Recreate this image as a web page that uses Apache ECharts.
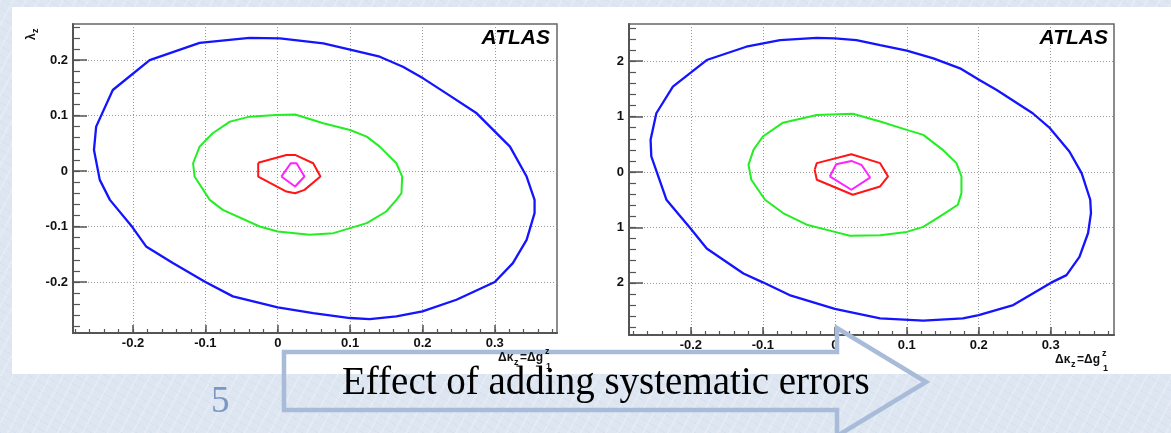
<!DOCTYPE html>
<html>
<head>
<meta charset="utf-8">
<script src="https://cdn.jsdelivr.net/npm/echarts@6/dist/echarts.min.js"></script>
<style>
  body {
    margin: 0;
    width: 1171px;
    height: 433px;
    overflow: hidden;
    background:
      repeating-linear-gradient(118deg, rgba(255,255,255,0.22) 0 2px, transparent 2px 11px),
      repeating-linear-gradient(32deg, rgba(200,212,230,0.25) 0 1px, transparent 1px 8px),
      #dde6f1;
  }
  #panel { position: absolute; left: 12px; top: 7px; width: 1159px; height: 367px; background: #fff; }
  #main { position: absolute; left: 0; top: 0; width: 1171px; height: 433px; }
</style>
</head>
<body>
<div id="panel"></div>
<div id="main"></div>
<script>
// contour points [dk, lambda]
var leftBlue = [[-0.039,0.240],[-0.108,0.231],[-0.177,0.200],[-0.228,0.146],[-0.251,0.080],[-0.254,0.038],[-0.246,-0.016],[-0.232,-0.052],[-0.201,-0.101],[-0.182,-0.136],[-0.145,-0.166],[-0.100,-0.200],[-0.062,-0.226],[0.000,-0.246],[0.049,-0.256],[0.100,-0.265],[0.127,-0.267],[0.164,-0.262],[0.200,-0.253],[0.247,-0.232],[0.300,-0.200],[0.325,-0.166],[0.344,-0.124],[0.355,-0.076],[0.355,-0.052],[0.344,-0.010],[0.321,0.044],[0.275,0.104],[0.233,0.140],[0.201,0.167],[0.173,0.188],[0.141,0.206],[0.100,0.219],[0.063,0.230],[0.003,0.239],[-0.039,0.240]];
var leftGreen = [[-0.002,0.101],[-0.039,0.098],[-0.066,0.089],[-0.090,0.068],[-0.108,0.044],[-0.117,0.014],[-0.115,-0.010],[-0.094,-0.052],[-0.076,-0.070],[-0.025,-0.100],[0.000,-0.109],[0.044,-0.115],[0.077,-0.112],[0.100,-0.103],[0.123,-0.094],[0.150,-0.073],[0.164,-0.052],[0.171,-0.040],[0.172,-0.010],[0.164,0.014],[0.141,0.044],[0.123,0.062],[0.100,0.074],[0.063,0.086],[0.024,0.102],[-0.002,0.101]];
var leftRed = [[-0.027,0.015],[0.012,0.029],[0.024,0.029],[0.049,0.014],[0.059,-0.010],[0.037,-0.034],[0.024,-0.040],[0.012,-0.037],[-0.027,-0.010],[-0.027,0.015]];
var leftMagenta = [[0.005,-0.010],[0.018,0.014],[0.026,0.014],[0.037,-0.010],[0.024,-0.028],[0.005,-0.010]];

var rightBlue = [[0.000,0.241],[-0.025,0.242],[-0.076,0.238],[-0.123,0.226],[-0.178,0.202],[-0.225,0.154],[-0.248,0.106],[-0.256,0.058],[-0.255,0.028],[-0.234,-0.050],[-0.201,-0.101],[-0.178,-0.138],[-0.127,-0.183],[-0.100,-0.199],[-0.063,-0.222],[0.000,-0.247],[0.063,-0.264],[0.123,-0.268],[0.178,-0.264],[0.200,-0.258],[0.248,-0.240],[0.300,-0.200],[0.322,-0.186],[0.340,-0.153],[0.352,-0.110],[0.356,-0.074],[0.355,-0.050],[0.343,-0.002],[0.326,0.037],[0.299,0.079],[0.275,0.106],[0.225,0.148],[0.201,0.166],[0.174,0.187],[0.137,0.205],[0.100,0.219],[0.063,0.229],[0.030,0.238],[0.000,0.241]];
var rightGreen = [[0.025,0.105],[-0.025,0.103],[-0.072,0.089],[-0.100,0.064],[-0.113,0.040],[-0.120,0.013],[-0.116,-0.014],[-0.097,-0.050],[-0.072,-0.074],[-0.039,-0.095],[0.000,-0.108],[0.021,-0.115],[0.063,-0.114],[0.100,-0.108],[0.123,-0.099],[0.150,-0.077],[0.171,-0.059],[0.176,-0.038],[0.176,-0.008],[0.169,0.016],[0.150,0.040],[0.123,0.067],[0.100,0.076],[0.063,0.091],[0.025,0.105]];
var rightRed = [[-0.028,0.004],[-0.025,0.016],[0.023,0.032],[0.063,0.016],[0.074,-0.008],[0.063,-0.026],[0.025,-0.041],[-0.025,-0.014],[-0.028,0.004]];
var rightMagenta = [[-0.007,-0.008],[0.002,0.014],[0.023,0.020],[0.037,0.013],[0.049,-0.010],[0.023,-0.032],[-0.007,-0.008]];

// tick values and labels
var xTicks = [-0.2, -0.1, 0, 0.1, 0.2, 0.3];
var yTicks = [-0.2, -0.1, 0, 0.1, 0.2];
var rightYLabels = ['2', '1', '0', '1', '2'];
var xMinor = [];
for (var i = -14; i <= 19; i++) xMinor.push(i / 50);
var yMinor = [];
for (var j = -14; j <= 13; j++) yMinor.push(j / 50);

var labelFont = { color: '#111', fontFamily: 'Liberation Sans', fontWeight: 'bold', fontSize: 13 };
var grey = '#555';

function majorX(grid, min, max) {
  return {
    type: 'value', gridIndex: grid, min: min, max: max, position: 'bottom',
    axisLine: { show: true, onZero: false, lineStyle: { color: grey, width: 2 } },
    axisTick: { show: true, inside: true, length: 8, customValues: xTicks, lineStyle: { color: grey, width: 1.5 } },
    axisLabel: Object.assign({ customValues: xTicks, margin: 4, formatter: function (v) { return v === 0 ? '0' : String(v); } }, labelFont),
    splitLine: { show: true, lineStyle: { color: '#9a9a9a', width: 1, type: [1, 2] } }
  };
}
function minorX(grid, min, max) {
  return {
    type: 'value', gridIndex: grid, min: min, max: max, position: 'bottom',
    axisLine: { show: false, onZero: false },
    axisTick: { show: true, inside: true, length: 4, customValues: xMinor, lineStyle: { color: grey, width: 1.2 } },
    axisLabel: { show: false }, splitLine: { show: false }
  };
}
function majorY(grid, min, max, fmt) {
  return {
    type: 'value', gridIndex: grid, min: min, max: max, position: 'left',
    axisLine: { show: true, onZero: false, lineStyle: { color: grey, width: 2 } },
    axisTick: { show: true, inside: true, length: 14, customValues: yTicks, lineStyle: { color: grey, width: 1.5 } },
    axisLabel: Object.assign({ customValues: yTicks, margin: 5, formatter: fmt }, labelFont),
    splitLine: { show: true, lineStyle: { color: '#9a9a9a', width: 1, type: [1, 2] } }
  };
}
function minorY(grid, min, max) {
  return {
    type: 'value', gridIndex: grid, min: min, max: max, position: 'left',
    axisLine: { show: false, onZero: false },
    axisTick: { show: true, inside: true, length: 7, customValues: yMinor, lineStyle: { color: grey, width: 1.2 } },
    axisLabel: { show: false }, splitLine: { show: false }
  };
}
function contour(data, color, width, xi, yi) {
  return {
    type: 'line', data: data, xAxisIndex: xi, yAxisIndex: yi,
    showSymbol: false, symbol: 'none', silent: true, z: 5,
    lineStyle: { color: color, width: width }
  };
}
function txt(s, x, y, size, extra) {
  return Object.assign({
    type: 'text', x: x, y: y, z: 100,
    style: { text: s, font: 'bold ' + size + 'px "Liberation Sans"', fill: '#111', verticalAlign: 'middle', textVerticalAlign: 'middle' }
  }, extra || {});
}

var myChart = echarts.init(document.getElementById('main'));
myChart.setOption({
  animation: false,
  backgroundColor: 'transparent',
  grid: [
    { left: 73, top: 24, width: 484, height: 309, show: true, borderColor: '#666', borderWidth: 1.5, backgroundColor: 'transparent' },
    { left: 629, top: 24, width: 485, height: 311, show: true, borderColor: '#666', borderWidth: 1.5, backgroundColor: 'transparent' }
  ],
  xAxis: [
    majorX(0, -0.283, 0.386), minorX(0, -0.283, 0.386),
    majorX(1, -0.286, 0.388), minorX(1, -0.286, 0.388)
  ],
  yAxis: [
    majorY(0, -0.292, 0.265, function (v) { return v === 0 ? '0' : String(v); }),
    minorY(0, -0.292, 0.265),
    majorY(1, -0.294, 0.267, function (v) { return rightYLabels[yTicks.indexOf(v)]; }),
    minorY(1, -0.294, 0.267)
  ],
  series: [
    contour(leftBlue, '#1414ff', 2.3, 0, 0),
    contour(leftGreen, '#22ee22', 2, 0, 0),
    contour(leftRed, '#ff1515', 2, 0, 0),
    contour(leftMagenta, '#ff22ff', 2, 0, 0),
    contour(rightBlue, '#1414ff', 2.3, 2, 2),
    contour(rightGreen, '#22ee22', 2, 2, 2),
    contour(rightRed, '#ff1515', 2, 2, 2),
    contour(rightMagenta, '#ff22ff', 2, 2, 2)
  ],
  graphic: [
    // ATLAS tags
    { type: 'text', x: 550, y: 38, z: 100, style: { text: 'ATLAS', font: 'italic bold 21px "Liberation Sans"', fill: '#000', align: 'right', textAlign: 'right', verticalAlign: 'middle', textVerticalAlign: 'middle' } },
    { type: 'text', x: 1108, y: 38, z: 100, style: { text: 'ATLAS', font: 'italic bold 21px "Liberation Sans"', fill: '#000', align: 'right', textAlign: 'right', verticalAlign: 'middle', textVerticalAlign: 'middle' } },
    // lambda_z on the left y axis
    { type: 'group', x: 32, y: 40, rotation: Math.PI / 2, z: 100, children: [
      txt('λ', 0, 0, 12),
      txt('z', 7, 4, 9)
    ] },
    // x axis titles
    txt('Δκ', 498, 358, 12), txt('z', 514, 363, 9), txt('=Δg', 520, 358, 12), txt('z', 545, 352, 9), txt('1', 546, 367, 9),
    txt('Δκ', 1055, 360, 12), txt('z', 1071, 365, 9), txt('=Δg', 1077, 360, 12), txt('z', 1102, 354, 9), txt('1', 1103, 369, 9),
    // slide arrow
    { type: 'polygon', z: 90, shape: { points: [[284, 352], [837, 352], [837, 328], [926, 382], [837, 436], [837, 410], [284, 410]] },
      style: { fill: 'none', stroke: '#a8bbd8', lineWidth: 4.5, lineJoin: 'miter' } },
    { type: 'text', x: 342, y: 384, z: 100, style: { text: 'Effect of adding systematic errors', font: '39px "Liberation Serif"', fill: '#000', verticalAlign: 'middle', textVerticalAlign: 'middle' } },
    { type: 'text', x: 211, y: 402, z: 100, style: { text: '5', font: '37px "Liberation Serif"', fill: '#7b96c3', verticalAlign: 'middle', textVerticalAlign: 'middle' } }
  ]
});
</script>
</body>
</html>
